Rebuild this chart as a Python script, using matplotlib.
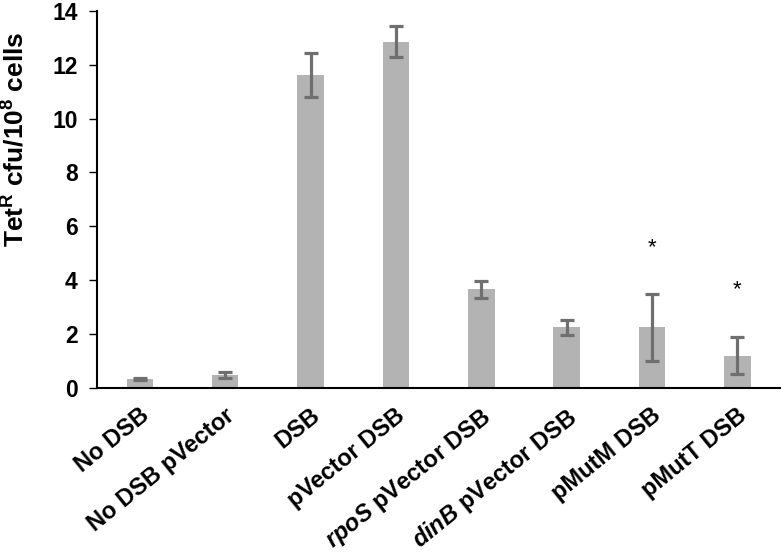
import matplotlib.pyplot as plt
import matplotlib.transforms as mtransforms
import numpy as np

plt.rcParams['font.family'] = ['Liberation Sans', 'DejaVu Sans']
plt.rcParams['font.weight'] = 'bold'
plt.rcParams['axes.labelweight'] = 'bold'
plt.rcParams['mathtext.fontset'] = 'custom'
plt.rcParams['mathtext.rm'] = 'Liberation Sans:bold'
plt.rcParams['mathtext.bf'] = 'Liberation Sans:bold'
plt.rcParams['mathtext.it'] = 'Liberation Sans:italic:bold'

strains = ["No DSB", "No DSB pVector", "DSB", "pVector DSB",
           r"$\mathit{rpoS}$ pVector DSB", r"$\mathit{dinB}$ pVector DSB",
           "pMutM DSB", "pMutT DSB"]
means = [0.33, 0.48, 11.62, 12.85, 3.66, 2.25, 2.25, 1.2]
errors = [0.04, 0.11, 0.8, 0.58, 0.31, 0.29, 1.24, 0.68]
stars = ["", "", "", "", "", "", "*", "*"]
star_height = [0, 0, 0, 0, 0, 0, 5.2, 3.65]

fig = plt.figure(figsize=(7.84, 5.53), dpi=100)
ax = fig.add_axes([0.124, 0.2984, 0.871, 0.682])

x = np.arange(len(strains))
ax.bar(x, means, width=0.31, color="#b3b3b3", zorder=2)
ax.errorbar(x, means, yerr=errors, fmt="none", ecolor="#6f6f6f",
            elinewidth=2.3, capsize=4.7, capthick=2.3, zorder=3)

for i, s in enumerate(stars):
    if s:
        ax.text(x[i], star_height[i], s, ha="center", va="center",
                fontsize=16, fontweight="normal")

ax.set_xlim(-0.5, len(strains) - 0.5)
ax.set_ylim(0, 14)
ax.set_yticks(range(0, 15, 2))
ax.tick_params(axis="y", labelsize=16.5, length=6, width=1, pad=8)
ax.tick_params(axis="x", length=0, pad=0)

ax.set_xticks(x)
ax.set_xticklabels(strains, rotation=39, ha="right", va="top",
                   rotation_mode="anchor", fontsize=17)
offset = mtransforms.ScaledTranslation(-0.01, -0.16, fig.dpi_scale_trans)
for lab in ax.get_xticklabels():
    lab.set_transform(lab.get_transform() + offset)

for side in ["top", "right"]:
    ax.spines[side].set_visible(False)
for side in ["left", "bottom"]:
    ax.spines[side].set_linewidth(1.5)

ax.set_ylabel(r"Tet$^{\mathrm{R}}$ cfu/10$^{\mathrm{8}}$ cells", fontsize=19)
ax.yaxis.set_label_coords(-0.1, 0.66)

fig.savefig("out.png", dpi=100)
